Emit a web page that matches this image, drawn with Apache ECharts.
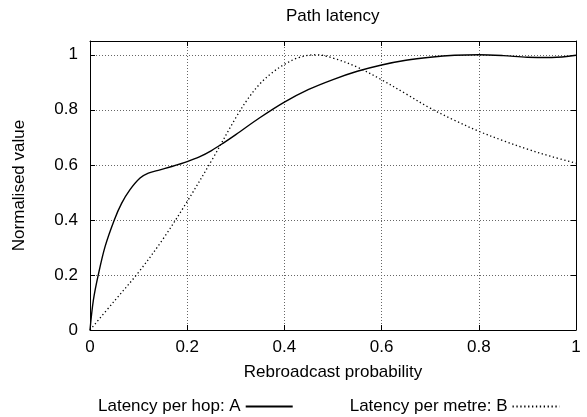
<!DOCTYPE html>
<html>
<head>
<meta charset="utf-8">
<script src="https://cdn.jsdelivr.net/npm/echarts@6/dist/echarts.min.js"></script>
<style>
html,body{margin:0;padding:0;background:#fff;}
#chart{width:587px;height:417px;}
</style>
</head>
<body>
<div id="chart"></div>
<script>
// ---- Data ----
var titleText = 'Path latency';
var xAxisName = 'Rebroadcast probability';
var yAxisName = 'Normalised value';
var seriesNames = ['Latency per hop: A', 'Latency per metre: B'];

var hopX = [0, 0.007, 0.017, 0.031, 0.05, 0.065, 0.082, 0.103, 0.12, 0.144, 0.17, 0.2, 0.225, 0.25, 0.275, 0.3, 0.35, 0.4, 0.45, 0.5, 0.55, 0.6, 0.65, 0.7, 0.75, 0.8, 0.85, 0.9, 0.95, 1.0];
var hopY = [0, 0.109, 0.2, 0.303, 0.4, 0.46, 0.509, 0.552, 0.57, 0.582, 0.595, 0.612, 0.629, 0.652, 0.68, 0.71, 0.772, 0.828, 0.874, 0.91, 0.94, 0.963, 0.98, 0.991, 0.998, 1.0, 0.997, 0.991, 0.99, 0.998];

var metreX = [0, 0.05, 0.1, 0.15, 0.2, 0.25, 0.3, 0.325, 0.35, 0.375, 0.4, 0.43, 0.465, 0.5, 0.55, 0.6, 0.65, 0.7, 0.75, 0.8, 0.85, 0.9, 0.95, 1.0];
var metreY = [0, 0.105, 0.21, 0.33, 0.467, 0.615, 0.771, 0.84, 0.895, 0.935, 0.965, 0.99, 1.0, 0.988, 0.955, 0.909, 0.858, 0.806, 0.762, 0.722, 0.688, 0.657, 0.63, 0.606];

var xMin = 0, xMax = 1, xStep = 0.2;
var yMin = 0, yMax = 1.05, yStep = 0.2;

function zip(xs, ys) { return xs.map(function (x, i) { return [x, ys[i]]; }); }

var FONT = "'Liberation Sans', Arial, sans-serif";
function tickFmt(v) {
  var k = v / 0.2;
  if (Math.abs(k - Math.round(k)) > 1e-6) return '';
  return String(+v.toFixed(1));
}

var gridLine = { show: true, lineStyle: { color: '#666', type: [1, 2], width: 1 } };
var axisLineBlack = { show: true, onZero: false, lineStyle: { color: '#000', width: 1 } };
var tickIn = { show: true, inside: true, length: 5, lineStyle: { color: '#000', width: 1 } };

var chart = echarts.init(document.getElementById('chart'), null, { renderer: 'canvas' });
chart.setOption({
  animation: false,
  backgroundColor: '#fff',
  textStyle: { fontFamily: FONT, color: '#000' },
  title: {
    text: titleText, left: 286, top: 8, padding: 0,
    textStyle: { fontFamily: FONT, fontSize: 17, fontWeight: 'normal', color: '#000' }
  },
  grid: { left: 90, right: 11, top: 41, bottom: 87, containLabel: false },
  legend: {
    data: seriesNames,
    left: 98, top: 398, align: 'right', itemGap: 56,
    itemWidth: 47, itemHeight: 14, padding: 0,
    itemStyle: { color: 'rgba(0,0,0,0)', borderColor: 'rgba(0,0,0,0)', borderWidth: 0, opacity: 0 },
    textStyle: { fontFamily: FONT, fontSize: 17, color: '#000' }
  },
  xAxis: [{
    type: 'value', min: xMin, max: xMax, interval: xStep, position: 'bottom',
    name: xAxisName, nameLocation: 'middle', nameGap: 34,
    nameTextStyle: { fontFamily: FONT, fontSize: 17, color: '#000' },
    axisLine: axisLineBlack, axisTick: tickIn, splitLine: gridLine,
    axisLabel: { formatter: tickFmt, margin: 9, fontFamily: FONT, fontSize: 17, color: '#000' }
  }, {
    type: 'value', min: xMin, max: xMax, interval: xStep, position: 'top',
    axisLine: axisLineBlack, axisTick: tickIn, splitLine: { show: false },
    axisLabel: { show: false }
  }],
  yAxis: [{
    type: 'value', min: yMin, max: yMax, interval: yStep, position: 'left',
    name: yAxisName, nameLocation: 'middle', nameGap: 62,
    nameTextStyle: { fontFamily: FONT, fontSize: 17, color: '#000' },
    axisLine: axisLineBlack, axisTick: tickIn, splitLine: gridLine,
    axisLabel: { formatter: tickFmt, margin: 12, fontFamily: FONT, fontSize: 17, color: '#000' }
  }, {
    type: 'value', min: yMin, max: yMax, interval: yStep, position: 'right',
    axisLine: axisLineBlack, axisTick: tickIn, splitLine: { show: false },
    axisLabel: { show: false }
  }],
  series: [{
    name: seriesNames[0], type: 'line', xAxisIndex: 0, yAxisIndex: 0,
    data: zip(hopX, hopY), smooth: 0.35, symbol: 'none', showSymbol: false,
    lineStyle: { color: '#000', width: 1.4, type: 'solid' },
    itemStyle: { color: '#000' }
  }, {
    name: seriesNames[1], type: 'line', xAxisIndex: 0, yAxisIndex: 0,
    data: zip(metreX, metreY), smooth: 0.35, symbol: 'none', showSymbol: false,
    lineStyle: { color: '#000', width: 1.3, type: [1.3, 2.6] },
    itemStyle: { color: '#000' }
  }]
});
</script>
</body>
</html>
